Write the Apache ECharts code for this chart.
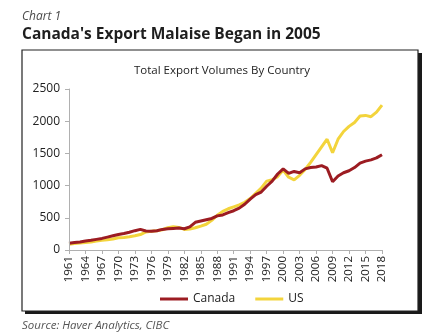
<!DOCTYPE html>
<html>
<head>
<meta charset="utf-8">
<style>
  html, body { margin: 0; padding: 0; background: #ffffff; }
  #chart { width: 424px; height: 334px; }
</style>
<script src="https://cdn.jsdelivr.net/npm/echarts@6/dist/echarts.min.js"></script>
</head>
<body>
<div id="chart"></div>
<script>
// Annual export volume indices, 1961-2018
const years = [];
for (let y = 1961; y <= 2018; y++) years.push(String(y));

const canada = [
  105, 115, 125, 140, 150, 165, 180, 200, 220, 240,
  255, 275, 300, 320, 295, 290, 300, 320, 330, 335,
  340, 330, 360, 430, 450, 470, 490, 530, 545, 580,
  610, 650, 710, 790, 860, 900, 990, 1070, 1180, 1260,
  1190, 1220, 1200, 1260, 1280, 1290, 1310, 1270, 1060, 1150,
  1200, 1230, 1280, 1350, 1380, 1400, 1430, 1480
];

const us = [
  90, 100, 108, 118, 125, 140, 150, 160, 170, 190,
  195, 205, 220, 240, 280, 290, 300, 315, 345, 360,
  350, 320, 325, 345, 370, 400, 460, 540, 600, 640,
  670, 700, 740, 800, 880, 960, 1070, 1090, 1140, 1240,
  1130, 1090, 1160, 1250, 1360, 1480, 1600, 1720, 1510, 1720,
  1840, 1920, 1980, 2080, 2090, 2070, 2140, 2250
];

const yTicks = { min: 0, max: 2500, step: 500 };

const FONT = '"Open Sans", "Noto Sans", sans-serif';
const chart = echarts.init(document.getElementById('chart'), null, { renderer: 'canvas' });

chart.setOption({
  backgroundColor: '#ffffff',
  animation: false,
  graphic: [
    // drop shadow of the frame
    { type: 'rect', shape: { x: 25, y: 53, width: 397, height: 261 },
      style: { fill: '#1a1a1a' }, z: -20 },
    // frame
    { type: 'rect', shape: { x: 22, y: 50, width: 396, height: 261 },
      style: { fill: '#ffffff', stroke: '#222222', lineWidth: 1.2 }, z: -10 },
    { type: 'text', left: 22, top: 11, z: 5,
      style: { text: 'Chart 1', font: 'italic 12px ' + FONT, fill: '#4a4a4a' } },
    { type: 'text', left: 22, top: 27, z: 5,
      style: { text: "Canada's Export Malaise Began in 2005", font: 'bold 15.5px ' + FONT, fill: '#1e1e1e' } },
    { type: 'text', left: 22, top: 320, z: 5,
      style: { text: 'Source: Haver Analytics, CIBC', font: 'italic 11.5px ' + FONT, fill: '#555555' } }
  ],
  title: {
    text: 'Total Export Volumes By Country',
    left: 217, top: 60, textAlign: 'center',
    textStyle: { fontFamily: FONT, fontSize: 11.5, fontWeight: 'normal', color: '#222222' }
  },
  legend: {
    bottom: 24, left: 155,
    itemWidth: 28, itemHeight: 3, itemGap: 20,
    icon: 'rect',
    textStyle: { fontFamily: FONT, fontSize: 12, color: '#222222' },
    data: ['Canada', 'US']
  },
  grid: { left: 69, right: 42, top: 89, bottom: 84, containLabel: false },
  xAxis: {
    type: 'category',
    data: years,
    boundaryGap: false,
    z: 5,
    axisLine: { lineStyle: { color: '#b0b0b0', width: 1 } },
    axisTick: { show: true, interval: 2, length: 4, lineStyle: { color: '#b0b0b0' } },
    axisLabel: {
      interval: 2, rotate: 90, margin: 6,
      fontFamily: FONT, fontSize: 11.5, color: '#222222'
    },
    splitLine: { show: false }
  },
  yAxis: {
    type: 'value',
    min: yTicks.min, max: yTicks.max, interval: yTicks.step,
    z: 5,
    axisLine: { show: true, lineStyle: { color: '#b0b0b0', width: 1 } },
    axisTick: { show: true, length: 4, lineStyle: { color: '#b0b0b0' } },
    axisLabel: {
      fontFamily: FONT, fontSize: 12, color: '#222222', margin: 9,
      formatter: (v) => String(v)
    },
    splitLine: { show: false }
  },
  series: [
    {
      name: 'Canada', type: 'line', data: canada,
      showSymbol: false, symbol: 'none', smooth: false,
      lineStyle: { color: '#9c1c22', width: 3 },
      itemStyle: { color: '#9c1c22' }, z: 3
    },
    {
      name: 'US', type: 'line', data: us,
      showSymbol: false, symbol: 'none', smooth: false,
      lineStyle: { color: '#f3d43c', width: 3 },
      itemStyle: { color: '#f3d43c' }, z: 2
    }
  ]
});
</script>
</body>
</html>
